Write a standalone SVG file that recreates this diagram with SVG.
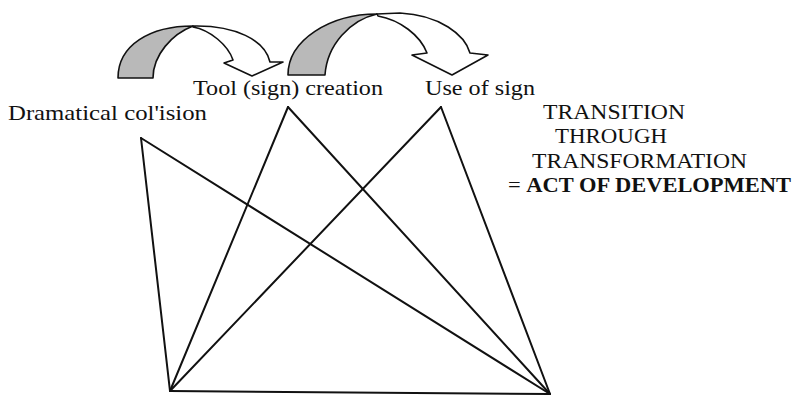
<svg xmlns="http://www.w3.org/2000/svg" width="793" height="396" viewBox="0 0 793 396">
<style>
.t{font-family:"Liberation Serif","Times New Roman",serif;font-size:22px;fill:#111}
.b{font-weight:bold}
.ln{stroke:#111;stroke-width:2;fill:none;stroke-linecap:round}
.g{fill:#b9b9b9;stroke:#111;stroke-width:1.6;stroke-linejoin:round}
.w{fill:#fff;stroke:#111;stroke-width:1.6;stroke-linejoin:round}
</style>
<rect width="793" height="396" fill="#fff"/>
<g id="connectors">
<line class="ln" x1="141" y1="138" x2="170" y2="391"/>
<line class="ln" x1="141" y1="138" x2="550" y2="394"/>
<line class="ln" x1="288" y1="107" x2="170" y2="391"/>
<line class="ln" x1="288" y1="107" x2="550" y2="394"/>
<line class="ln" x1="441" y1="107" x2="170" y2="391"/>
<line class="ln" x1="441" y1="107" x2="550" y2="394"/>
<line class="ln" x1="170" y1="391" x2="550" y2="394"/>
</g>
<g id="arrow1">
<path class="g" d="M118,78 C118,45 150,26 193,26 C172,34 153,55 153,78 Z"/>
<path class="w" d="M193,26 C235,25 265,40 270,62 L283,62 L252,76 L224,63 L233,60 C228,45 210,30 193,27 Z"/>
</g>
<g id="arrow2">
<path class="g" d="M288,75 C288,40 330,14 377,14 C350,20 327,45 325,75 Z"/>
<path class="w" d="M377,14 L400,13 C440,15 465,35 470,53 L488,55 L452,75 L412,55 L427,53 C420,35 400,20 378,16 Z"/>
</g>
<g id="node-tool">
<text class="t" x="193" y="95" textLength="190" lengthAdjust="spacingAndGlyphs">Tool (sign) creation</text>
</g>
<g id="node-use">
<text class="t" x="425" y="95" textLength="110" lengthAdjust="spacingAndGlyphs">Use of sign</text>
</g>
<g id="node-collision">
<text class="t" x="8" y="120" textLength="199" lengthAdjust="spacingAndGlyphs">Dramatical col'ision</text>
</g>
<g id="node-transition">
<text class="t" x="543" y="119" textLength="142" lengthAdjust="spacingAndGlyphs">TRANSITION</text>
<text class="t" x="555" y="143" textLength="112" lengthAdjust="spacingAndGlyphs">THROUGH</text>
<text class="t" x="532" y="168" textLength="215" lengthAdjust="spacingAndGlyphs">TRANSFORMATION</text>
<text class="t" x="508" y="192" textLength="283" lengthAdjust="spacingAndGlyphs">= <tspan class="b">ACT OF DEVELOPMENT</tspan></text>
</g>
</svg>
